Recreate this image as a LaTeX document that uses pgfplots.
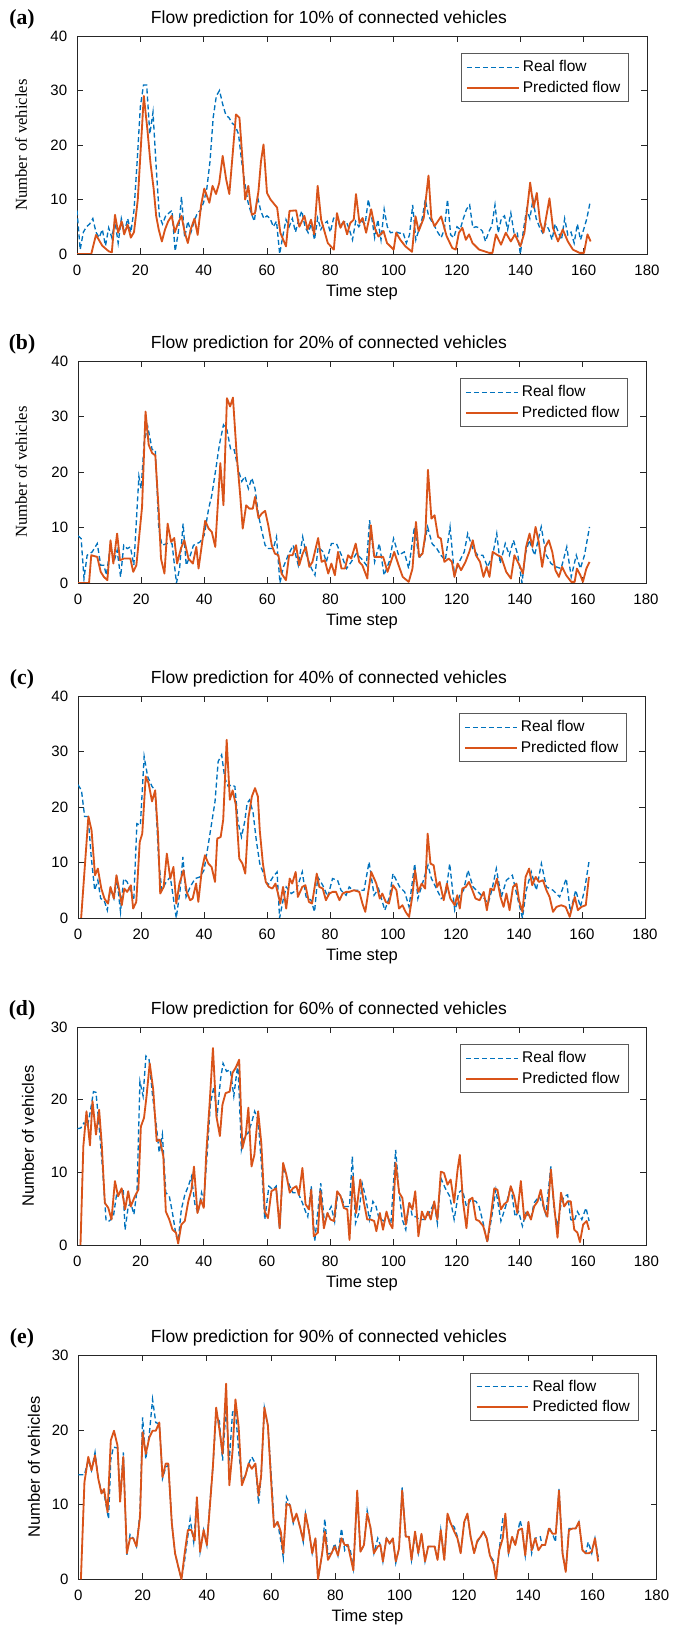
\documentclass[border=0pt]{standalone}
\usepackage{fontspec}
\setmainfont{Liberation Sans}
\newfontfamily\tnr{Liberation Serif}
\usepackage{pgfplots}
\pgfplotsset{compat=1.18}

\definecolor{realc}{rgb}{0,0.447,0.741}
\definecolor{predc}{rgb}{0.85,0.325,0.098}
\definecolor{axc}{rgb}{0.15,0.15,0.15}

% 1 px of the reference = 0.6pt
\pgfplotsset{
  flow/.style={
    scale only axis, anchor=south west,
    xmin=0, xmax=180, ymin=0,
    xtick={0,20,...,180},
    tick align=inside,
    major tick length=3.6pt,
    axis line style={axc, line width=0.5pt},
    every tick/.style={axc, line width=0.5pt},
    tick label style={font=\fontsize{9}{10}\selectfont},
    xticklabel style={yshift=-2.8pt},
    yticklabel style={xshift=-2.4pt},
    /pgf/number format/assume math mode=true,
    legend style={at={(1,1)}, anchor=north east, xshift=-10.8pt, yshift=-10.5pt,
      draw=black!65, line width=0.5pt, font=\fontsize{9.3}{11}\selectfont,
      inner xsep=3pt, inner ysep=2pt},
    legend cell align=left,
    legend image code/.code={\draw[##1] (0pt,0pt) -- (31pt,0pt);},
  },
  real/.style={realc, line width=0.8pt, dash pattern=on 3pt off 1.8pt},
  pred/.style={predc, line width=1.1pt, line join=round},
}

\begin{document}
\begin{tikzpicture}
\path[use as bounding box] (0,0) rectangle (405pt,979.8pt);

% ---------------- (a) 10%
\begin{axis}[flow, at={(46.2pt,827.4pt)}, width=342pt, height=130.8pt,
  ymax=40, ytick={0,10,...,40}]
\addplot[real] coordinates {(0,8)(1,0.8)(2,4)(3,5)(4,5.5)(5,6.5)(6,4)(7,3)(8,4.5)(9,1.5)(10,4.8)(11,3)(12,6)(13,2)(14,6.5)(15,4)(16,6.5)(17,4)(18,8)(19,17)(20,27)(21,31)(22,31)(23,22)(24,26)(25,16)(26,7)(27,5.5)(28,7)(29,7.5)(30,8)(31,0.5)(32,4)(33,10.5)(34,3)(35,6)(36,4)(37,6)(38,7.5)(39,8)(40,9.5)(41,12)(42,17)(43,25)(44,29)(45,30)(46,27.5)(47,25.5)(48,25)(49,24)(50,23.5)(51,22)(52,17)(53,13)(54,9.5)(55,7.5)(56,6)(57,10.5)(58,8)(59,6.5)(60,7)(61,6.5)(62,5)(63,6)(64,0)(65,3.3)(66,6.3)(67,5)(68,6.5)(69,4)(70,6.3)(71,7.9)(72,5)(73,3.9)(74,5.5)(75,2.6)(76,6.6)(77,4.5)(78,5.5)(79,6)(80,4)(81,6.5)(82,7.2)(83,5)(84,5.8)(85,6)(86,4.5)(87,2.6)(88,6)(89,5)(90,6)(91,5.5)(92,10)(93,7)(94,3)(95,6.3)(96,2.6)(97,8.2)(98,5)(99,3.9)(100,4)(101,4)(102,3.8)(103,3.9)(104,2)(105,3.5)(106,9)(107,2.6)(108,4.5)(109,6.5)(110,10)(111,7)(112,6)(113,5)(114,3.9)(115,3)(116,4.5)(117,10)(118,3.5)(119,3)(120,5)(121,4.5)(122,6.5)(123,8.2)(124,9)(125,4.8)(126,5)(127,4.8)(128,4.2)(129,2.3)(130,4)(131,5.2)(132,9)(133,3.9)(134,6.5)(135,7)(136,4.5)(137,7.5)(138,3.9)(139,4)(140,0)(141,4.5)(142,8.2)(143,6.5)(144,10)(145,6.5)(146,5)(147,3.9)(148,5.5)(149,4.5)(150,2.6)(151,5.5)(152,4)(153,2.6)(154,6.5)(155,3.5)(156,4)(157,2)(158,5.5)(159,2.6)(160,4.5)(161,6.5)(162,9.4)};
\addlegendentry{Real flow}
\addplot[pred] coordinates {(0,0)(4.5,0)(6,3.5)(7,2.5)(8,1.5)(9,1)(10,0.5)(11,0.3)(12,7.2)(13,3.9)(14.1,6)(14.9,3.6)(16,5.4)(17,3)(18,4)(19.2,10)(20.2,20)(21.1,29)(22.2,23)(23.2,16.7)(24.2,12)(25,7)(25.8,4.5)(26.8,2.3)(27.8,4.5)(28.8,6)(29.9,7)(30.9,4)(31.8,5.5)(33,7)(34,4)(35,2)(35.9,4.5)(37.1,6.5)(38.1,3.5)(39.2,9)(40.2,12)(41.8,9.4)(42.8,12.5)(43.9,11)(44.9,13)(46,18)(47.1,13.7)(48.1,11)(49.2,18.6)(50.2,25.6)(51.3,25)(52.3,17)(53.1,10)(54.1,12.5)(55.2,7.2)(56.2,7.5)(57.3,11.5)(58.1,17)(58.9,20.1)(60,11.2)(61.1,10)(63.2,8.5)(64.2,3.9)(66,1.4)(67.1,7.9)(69.2,8)(70.2,5)(71.8,7)(72.8,4.5)(73.9,6.3)(74.9,3.6)(76,12.5)(77.1,6.3)(79.2,2)(81.1,0.8)(82.1,7.5)(83.2,4.8)(84.2,6)(85.3,3.6)(86.3,5.7)(87.4,6.3)(88.1,11)(89.2,5.7)(90.2,6.6)(91.3,3.9)(92.9,8.2)(94.2,4.5)(95.2,3.2)(96.8,4.2)(97.9,2)(100,0.8)(100.8,3.9)(102.1,2.6)(103.7,1.4)(105.8,0.4)(106.9,6.9)(107.9,4.2)(109.5,6.6)(111,14.4)(111.9,6.6)(112.9,5.1)(115,6.9)(116.7,3.3)(118.5,1.1)(119.6,0.8)(120.6,3.9)(121.7,4.8)(122.8,2.6)(123.8,3.6)(124.9,2)(127,0.8)(130.2,0.2)(131.2,0.2)(132.3,3.6)(133.9,1.7)(135.4,3.9)(137,2.3)(138.3,3.6)(140,1.4)(141.3,3.9)(143.1,13.1)(144.2,8.5)(145.2,11.2)(146.2,6)(147.3,3.9)(149.2,10.2)(150.3,4.8)(151.9,2.3)(153.4,4.5)(155,2.3)(156.6,0.8)(158.7,0.2)(160.1,0.2)(161.2,3.6)(162.2,2.3)};
\addlegendentry{Predicted flow}
\end{axis}

% ---------------- (b) 20%
\begin{axis}[flow, at={(46.8pt,630pt)}, width=340.8pt, height=133.2pt,
  ymax=40, ytick={0,10,...,40}]
\addplot[real] coordinates {(0,8.5)(1,8)(1.9,0.8)(2.9,5)(4.5,5.6)(6.1,7.1)(7.2,3.2)(8.2,3.2)(9,1.4)(10.3,6.8)(11.4,3.8)(12.4,5.9)(13.5,1.1)(14.5,6.8)(15.6,6.2)(16.6,6.5)(17.7,3.2)(19.3,19.2)(20,17)(21,25.5)(22.1,28.2)(23.5,24)(24.5,24)(25.6,9.8)(26.6,6.8)(28.2,7.1)(29.8,7.1)(31.2,0)(32.2,2.6)(33.3,10.7)(34.3,3.2)(35.6,5)(36.6,6.8)(37.7,7.1)(38.7,7.4)(40,8.6)(41.4,13.4)(42.4,15.8)(43.8,21)(44.8,24.9)(46.1,28.5)(47.2,27.6)(48.4,24)(49.5,24)(50.8,20.4)(51.9,18.3)(52.9,19.2)(54,17)(55.1,18.9)(56.1,17)(57.2,12.2)(58.2,9.5)(59.3,6.8)(60.3,6.2)(61.9,6.2)(62.9,8.3)(64,0)(65.1,2.9)(66.6,5)(68.2,6.8)(69.8,3.2)(71.2,8.3)(72.4,5)(74,2.6)(75.1,1.4)(76.1,6.5)(77.7,5.6)(78.7,3.8)(80.3,7.1)(81.9,7.1)(83.5,5)(85.1,2.6)(86.6,3.8)(88.2,5.3)(89.8,4.4)(91.4,3.2)(92.4,11.3)(94,3.8)(95.5,7.1)(97,1.4)(98.6,3.8)(100,8)(101.6,5)(103.4,5.6)(104.8,2.6)(106.6,10.1)(108.1,4.4)(109.2,5.6)(110.8,10.1)(112.2,7.1)(113.7,6.2)(115,5)(116.4,4.1)(117.9,10.1)(119.3,1.4)(120.8,3.8)(122.4,5.6)(123.5,8.9)(125.1,6.2)(126.7,5)(128.3,5)(129.8,2.9)(131.4,5)(132.7,8.9)(133.8,3.5)(135.4,7.1)(136.7,5)(138,7.7)(139.4,5)(140.7,0)(141.8,5.3)(143,7.7)(144.7,5)(146.8,10.1)(148.4,5)(149.9,3.5)(151.5,2.9)(153.1,2.6)(154.9,6.5)(156.3,1.1)(157.9,5)(159.2,2.6)(160.5,5)(162.1,10.1)};
\addlegendentry{Real flow}
\addplot[pred] coordinates {(0,0)(3.5,0)(4.2,5)(6.1,4.7)(7.2,2)(8.2,1.1)(9.3,0.5)(10.3,7.7)(11.2,3.5)(12.4,8.9)(13.3,4.1)(14.5,4.4)(16.6,4.4)(17.5,2)(18.5,3.2)(20.3,13.7)(21.4,30.9)(22.4,24.9)(23.5,23.4)(24.5,23)(25.6,12.8)(26.3,4.4)(27.4,1.7)(28.4,10.7)(29.5,7.4)(30.5,8.1)(31.4,3.5)(32.6,6.2)(33.7,7.7)(35,4.4)(36.4,3.5)(37.5,6.5)(38.2,2.6)(40.3,11.2)(41.4,9.8)(42.4,9.2)(43.5,6.5)(45.1,21.6)(46.1,14)(47.2,33.3)(48.2,31.8)(49.1,33.4)(50.3,23)(51.4,15.8)(52.2,9.8)(53.3,14)(54.3,13.4)(55.4,13.4)(56.1,15.5)(57.2,11.7)(58.2,12.5)(59.3,13)(60.3,10.4)(61.4,6.8)(62.4,5.3)(63.5,5)(64.5,1.7)(65.9,0.5)(66.9,5)(68,5)(69.1,6.8)(70.1,3.2)(71.2,5.3)(72.2,6.5)(73.3,2.9)(74.3,3.8)(76.1,8.1)(77.2,3.8)(78.2,4.1)(79.3,1.7)(80.3,3.5)(81.4,1.4)(82.4,5.6)(83.5,2.6)(84.6,2.6)(85.6,5)(86.6,4.4)(88,7.1)(89.1,3.8)(90.1,3.2)(91.7,0.8)(92.8,10.4)(93.9,4.7)(96.7,4.7)(98.1,2)(100.2,5.6)(101.6,3.2)(102.9,1.1)(104.8,0.2)(106,2.6)(107.1,11)(108.1,4.7)(109.2,5.3)(110.1,8.9)(110.9,20.4)(112,11.6)(113,12.2)(114.1,8.3)(115,8)(116.1,3.8)(117.5,4.4)(118.5,3.8)(119.3,1.1)(120.3,3.5)(121.4,2.3)(122.8,3.8)(124,5.6)(125.1,7.7)(126.1,5)(127.4,3.8)(128.5,1.1)(129.5,2.9)(130.4,1.1)(131.4,5.6)(133,5)(134.1,4.7)(135.7,2)(137.2,0.8)(138.3,5)(139.9,3.2)(141,1.7)(142,6.5)(143.1,8.9)(144,6.5)(145,10.1)(146,7.4)(147.1,2.9)(148.1,6.5)(149.2,7.7)(150.3,5.6)(151.3,2.3)(152.4,1.1)(153.4,2.9)(154.7,1.4)(156.3,0.2)(157.4,0.2)(158.1,2.6)(159.2,1.4)(160,0.2)(161.1,2.6)(162.1,3.8)};
\addlegendentry{Predicted flow}
\end{axis}

% ---------------- (c) 40%
\begin{axis}[flow, at={(46.8pt,429pt)}, width=340.2pt, height=133.2pt,
  ymax=40, ytick={0,10,...,40}]
\addplot[real] coordinates {(0,24)(1.1,23)(2.1,18.3)(3.2,18.3)(4.2,11)(5.3,5)(6.3,6.8)(7.2,3.5)(8.3,3.2)(9.3,1.4)(10.3,5.3)(11.4,3.5)(12.4,6.8)(13.5,1.1)(14.5,7.1)(15.6,6.5)(16.6,5)(17.7,3.2)(18.7,17)(19.8,16.7)(21,29.1)(22.1,25.5)(23.5,23.7)(24.5,23)(25.6,10.4)(26.6,5)(28,6.5)(29.3,7.4)(31.2,0)(32.4,5)(33.3,11)(34.3,3.8)(35.6,5.6)(37.2,7.1)(38.7,7.4)(40,8.6)(41.4,13.4)(42.4,17)(43.5,21)(44.5,28.2)(45.6,29.4)(46.6,25.2)(47.7,23.7)(48.7,24)(49.8,23.7)(50.8,17.3)(51.9,14.6)(52.9,17.3)(53.7,20.7)(54.5,21.3)(55.6,18.9)(56.6,14)(57.7,9.8)(58.9,8)(60.3,5.9)(61.9,7.4)(63.2,8.3)(64,0)(65.1,3.2)(66.1,5.6)(67.7,4.4)(69.3,5)(71.2,8.3)(72.4,3.8)(74,3.2)(75.1,1.1)(76.1,7.4)(77.7,5.9)(79.3,3.8)(80.8,7.1)(82.4,6.8)(83.5,5)(85.1,4.1)(86.1,5.6)(87.2,5)(89.3,5)(90.8,5)(92.4,10.1)(94,4.1)(95.4,5.3)(97.4,1.4)(98.9,3.8)(100,8)(102.1,5.6)(103.7,4.7)(105.1,2)(106.9,9.8)(107.9,3.5)(109.5,6.5)(111.1,9.5)(112.2,7.1)(113.8,5.3)(115.3,3.5)(116.7,4.1)(118,9.8)(119.6,1.4)(121.2,4.1)(122.4,5)(123.8,8.6)(125.4,5.6)(127,4.7)(128.6,3.8)(130.2,2.6)(131.5,5.3)(132.8,8.9)(134.4,3.8)(136,6.8)(137.9,7.7)(139.2,4.4)(141.1,0)(142.3,5)(143.9,8.3)(145.5,5)(147.1,9.8)(148.7,5.6)(150.8,5)(152.9,3.8)(155,7.1)(156.3,1.1)(158,5)(159.5,2)(160.8,5)(162.2,10.1)};
\addlegendentry{Real flow}
\addplot[pred] coordinates {(1,0)(3.3,18.3)(4.3,15.8)(5.4,7.7)(6.3,8.9)(7.4,5.3)(8.4,3.5)(9.5,2.6)(10.3,5.6)(11.4,3.5)(12.2,7.7)(13.1,5)(13.9,2.3)(14.7,5.3)(15.6,4.7)(16.8,5.9)(17.5,1.7)(18.5,2.9)(19.6,13.7)(20.4,15.2)(21.5,25.5)(22.4,24.3)(23.5,21)(24.5,23)(25.4,15.2)(26.1,4.4)(27.2,5.6)(28.2,11.6)(29.3,7.1)(30.3,9.2)(31.2,2.6)(32.2,6.2)(33.5,8.6)(34.5,4.7)(35.6,3.2)(36.4,3.5)(37.5,6.2)(38.2,2.9)(39.3,8.6)(40.3,11.3)(41.4,9.8)(42.4,9.2)(43.5,6.5)(44.2,14.3)(45.3,14.6)(46.1,17.7)(47.2,32.1)(48.2,21.3)(49.1,23)(50.1,20.4)(51.2,10.7)(52.2,9.8)(53.1,8)(54.1,18)(55.2,21.9)(56.2,23.4)(57.1,21.9)(57.7,15.8)(58.7,9.8)(59.6,6.5)(60.6,5.6)(61.7,5.3)(62.7,6.2)(63.5,4.4)(64.2,2.6)(65.1,5.6)(66.1,1.7)(67.2,7.1)(68,6.2)(69.1,8.3)(69.8,3.8)(71.2,5.6)(72.2,5.9)(73.3,2.9)(74.3,2.6)(75.8,8)(76.6,5.6)(77.7,5.3)(78.7,3.2)(79.8,4.4)(80.8,4.7)(81.9,4.7)(83,3.2)(84,4.4)(85.1,4.7)(86.1,4.7)(87.6,5)(89.3,4.7)(90.3,2.6)(91.2,1.1)(92.1,4.5)(93.1,8.3)(94.7,6.2)(95.8,3.5)(96.6,4.4)(97.7,2.9)(98.7,2.6)(100,5.9)(101.1,5)(101.9,1.7)(103,2.3)(104,1.1)(105.1,0.2)(106.1,3.8)(107,8.6)(108,4.7)(109.1,6.2)(110.2,5.3)(111,15.2)(111.9,9.8)(112.9,9.5)(114,5.6)(114.8,6.5)(116.1,3.2)(117.1,6.2)(118.2,3.5)(119.6,2.3)(120.4,4.1)(121.2,1.7)(122,5.3)(123.1,5.6)(124.1,6.5)(125.2,5)(126.2,3.5)(127.5,3.2)(128.8,4.7)(129.8,1.4)(130.9,5.3)(132,5)(133,7.1)(134.1,3.8)(135.1,2)(136,4.4)(137,1.4)(138.1,5.6)(139.2,6.2)(140,3.2)(141.1,1.1)(142.1,7.4)(143.2,8.9)(144.2,5.9)(145.3,7.4)(146.3,6.5)(147.6,6.8)(148.7,5)(149.7,3.8)(150.8,1.1)(151.9,2)(153.4,2.3)(154.8,2)(156.1,0.2)(157.7,3.8)(158.7,1.4)(159.8,2)(161.2,2.3)(162.2,7.4)};
\addlegendentry{Predicted flow}
\end{axis}

% ---------------- (d) 60%
\begin{axis}[flow, at={(46.4pt,232.8pt)}, width=341.4pt, height=130.8pt,
  ymax=30, ytick={0,10,...,30}]
\addplot[real] coordinates {(0,16)(1.1,16.1)(2.1,16.8)(3.2,16.3)(4.2,18.6)(5.1,21.1)(5.9,21)(6.9,16.3)(8,10.4)(9.1,3.3)(10.1,3.3)(11.4,3.9)(12.4,6.9)(13.5,7.2)(14.5,7.8)(15.1,2.1)(16.1,5.3)(16.9,5.8)(17.9,4.2)(18.9,7.6)(19.8,22.5)(20.8,20.5)(21.7,26)(22.7,25.5)(23.8,20.5)(24.8,17.2)(25.9,12.7)(26.9,15.2)(28,7.2)(29.1,6.7)(30.1,4.4)(31.2,1.4)(31.9,0.5)(32.9,4.9)(34,6.9)(35.1,8.1)(36.1,9.4)(37.2,5.6)(38.2,4.4)(39.3,7.2)(40,6)(41.1,12.7)(42.1,19.5)(43.2,21.8)(44.2,17.7)(45.3,22.8)(46.1,25)(47.2,23.9)(48.4,24.1)(49.5,20.5)(50.8,25)(51.9,13.1)(52.9,15)(54,15.4)(55.1,16.8)(56.1,18.4)(57.2,17.2)(58.2,11.3)(59.3,3.5)(60.6,8.1)(61.9,7.6)(62.9,8.1)(64,2.1)(65.1,10.8)(66.1,9.5)(67.2,8.1)(68.2,7.2)(69.8,7.2)(71.2,5.8)(72.2,4.6)(72.9,3.9)(74,8.1)(75.1,0.5)(77,8.5)(78.2,3)(79.3,4.4)(80.3,5.3)(81.4,3.2)(82.4,7.2)(83.5,6.7)(84.5,5.3)(85.4,5.3)(86.1,5.3)(87,12.2)(88,3)(89.1,4.4)(90.1,8.5)(91.2,6.6)(92.4,3.5)(93.5,6)(94.5,5.3)(95.4,3.7)(97,3.3)(98.1,3.9)(99.2,3)(100.7,13.1)(101.8,7.2)(102.8,3.5)(103.9,2.1)(105,6)(106,3.9)(107.1,3.9)(108.1,3.5)(109.7,3.5)(111.3,4.4)(112.9,5.8)(113.9,3)(115,9.2)(116.4,7.8)(117.8,6.7)(119.2,3.5)(120.6,7.2)(121.8,7.6)(123.1,5.3)(124.5,6.2)(126.1,6)(127.1,5.3)(128.4,3)(129.7,0.3)(131.1,3.9)(132.4,7.6)(134,3.3)(135.5,5.3)(137.1,8.1)(138.5,3.9)(139.6,4.6)(140.8,2.6)(141.9,4.4)(143.5,3.7)(144.5,5.8)(146.1,6.7)(147.2,5.6)(148.2,4.2)(149.8,10.8)(150.8,4.9)(151.9,2.6)(153,5.6)(154,6.7)(155.1,6.9)(156.1,3.5)(157.2,3.3)(158.2,4.6)(159.6,3.5)(160.9,5.1)(161.9,3.3)};
\addlegendentry{Real flow}
\addplot[pred] coordinates {(1,0)(1.9,13.6)(2.9,18.4)(4,13.7)(4.8,19.8)(5.9,15.2)(6.9,18.6)(7.7,14)(8.7,5.8)(9.8,5.1)(10.8,3.5)(11.9,8.8)(12.9,6.7)(14,7.8)(15.1,4.9)(16.1,7.4)(16.9,5.3)(18.2,6.7)(19.3,7.6)(20.1,16.3)(21.1,17.5)(21.9,20.5)(22.9,25)(24,21.4)(25.1,14.3)(26.1,14.5)(27.2,12.2)(28,4.6)(29.1,3.5)(30.1,2.1)(31.2,1.7)(31.9,0.2)(32.9,2.8)(34,3.3)(35.1,6)(36.1,7.6)(36.9,10.8)(38,4.4)(39.1,6.2)(40,5.1)(40.8,12.7)(41.9,19.8)(42.9,27.1)(44,17.7)(45.1,15)(45.9,19.3)(46.9,20.9)(48.2,21.1)(49.1,23.7)(50.1,24.4)(51.2,25.5)(52.2,13.3)(53.3,15.2)(54.1,18.9)(55.1,10.8)(56,12.4)(57.2,18.4)(58.2,14)(59.3,4.6)(60.3,3.7)(61.4,7.4)(62.9,7.8)(64,2.3)(65.1,11.3)(66.1,9.7)(67.2,7.2)(68.2,7.8)(69.3,8.1)(70.1,6.9)(71.2,10.6)(72.2,5.6)(73.3,4.9)(74,7.6)(74.8,1.2)(76.1,1.7)(76.9,7.4)(78,2.3)(79.1,4.4)(80.1,3.5)(81.2,3.3)(82.2,7.4)(83.3,6.7)(84.3,5.1)(85.4,4.9)(86.1,0.7)(87.2,9.4)(88.2,4.4)(89.5,9)(90.6,6)(91.7,3.5)(92.8,3.5)(93.9,3.3)(94.6,1.9)(95.7,4.4)(96.7,2.1)(97.8,4.6)(98.8,3)(99.7,2.3)(100.7,11.3)(101.8,7.2)(102.8,6.5)(103.9,2.8)(105,5.8)(106,4.9)(106.9,7.4)(107.9,1.2)(109,4.6)(110,3.5)(110.9,4.6)(111.8,3.5)(112.9,6)(113.9,3.5)(115,10.1)(116,9.9)(117.1,8.3)(118.1,9)(119.2,5.8)(120.3,10.4)(121,12.4)(122,6)(123.1,2.3)(123.9,6.2)(125,6.5)(126.1,3.5)(127.1,3.3)(128.4,2.6)(129.7,0.5)(130.8,3.9)(131.9,7.8)(132.9,7.6)(134,4.9)(135,5.6)(136.1,6)(137.1,8.1)(138.2,6.7)(139.2,4.4)(140.3,8.8)(141.4,3.5)(142.4,4.6)(143.5,3.5)(144.5,5.3)(145.6,6)(146.6,7.6)(147.7,4.9)(148.7,3.9)(149.8,10.4)(150.8,5.6)(151.9,1)(153,7.2)(154,5.3)(155.1,6)(156.1,6)(157.2,2.1)(158.2,1.7)(159,0.4)(160,2.8)(161.1,3.3)(161.9,2.1)};
\addlegendentry{Predicted flow}
\end{axis}

% ---------------- (e) 90%
\begin{axis}[flow, at={(47pt,32.2pt)}, width=347pt, height=134.4pt,
  ymax=30, ytick={0,10,...,30}]
\addplot[real] coordinates {(0,14)(1.9,14)(3.1,16)(4.1,14.6)(5.2,17)(6.2,13.5)(7.2,11.8)(8,11.5)(9.4,8.1)(10.1,16)(10.9,17.7)(12.2,17.6)(13,11)(14,17)(15.1,3.3)(16.1,6)(17.1,5.5)(18.1,4.4)(19.2,9)(20,21.7)(21,16.1)(22.1,19.5)(23.1,24.1)(24.1,21)(25.2,20.8)(26.2,13.5)(27.2,15)(28,15.3)(29.1,7.5)(30.1,3.5)(31.1,1.7)(32.1,0)(33.1,2.6)(34.8,8.1)(35.9,5)(36.9,10.8)(37.9,3.7)(39,6.6)(40,4.6)(41,10.5)(41.9,15.2)(42.9,22)(43.9,21.2)(44.9,15.9)(46,23)(47,15.9)(48,22.4)(48.9,22.6)(49.9,17.2)(50.9,13.2)(52,13.9)(53,15.5)(54,16.4)(55.1,15.5)(56.1,10.1)(56.9,13.9)(57.9,23)(59,20.6)(60.4,11.5)(60.9,7.5)(62,7.7)(63,5.2)(63.8,2.9)(64.8,11)(65.9,9.9)(66.9,7.5)(67.9,8.8)(69,7)(70,5)(70.7,8.8)(71.8,6.4)(72.8,3.5)(73.8,5.5)(74.6,0)(75.9,3.5)(76.7,8.1)(77.7,3.4)(78.8,3.5)(79.8,4.8)(80.8,3.2)(81.9,6.8)(82.9,3.9)(83.9,4.6)(84.7,3.8)(85.6,1.5)(86.8,11.5)(87.8,3.7)(88.9,4.6)(89.9,9.2)(90.9,7)(92,3.5)(93.2,5.5)(94,4.6)(94.8,2.4)(95.9,5.5)(96.9,4.8)(97.9,5.5)(98.8,2.2)(99.8,4.1)(100.8,12.3)(101.9,5.7)(102.9,5.7)(103.7,2.6)(104.8,5.9)(105.8,3.5)(106.8,6.1)(107.9,2.4)(108.9,4.4)(109.9,4.4)(110.9,4.4)(111.8,2.6)(112.8,6.6)(113.9,2.6)(114.9,8.4)(115.9,7.5)(117,7)(118,5.7)(119,3.5)(120.1,7.5)(121.1,8.8)(122.1,5.7)(123.2,3.5)(124.2,5)(125.2,5.7)(126.1,6.4)(127.1,5.5)(128.1,3.2)(129.2,2.5)(130,0)(131,3.9)(132.1,8.1)(132.9,8.4)(133.9,3.5)(135,5.7)(136,4.6)(137.5,7.9)(138.1,6.8)(139.1,3.2)(140.1,7.7)(141.1,3.5)(142.2,5.5)(143.8,5.7)(144.3,4.6)(145.3,4.6)(146.5,7)(147.6,6.1)(148.5,5)(149.6,12.1)(150.7,3.5)(151.7,1)(152.7,6.8)(153.8,6.8)(154.8,6.8)(155.8,7.7)(156.9,3.9)(157.9,3.5)(158.7,5)(159.8,3.5)(160.8,5.5)(161.8,3)};
\addlegendentry{Real flow}
\addplot[pred] coordinates {(0.8,0)(1.9,13)(3.1,16.4)(4.1,14.6)(5.2,16.6)(6.2,13.5)(7.2,11.5)(8,12.1)(9.1,9)(10.1,18.6)(11.1,19.9)(12.2,17.9)(13,10.4)(14,16.4)(15.1,3.5)(16.1,5.5)(17.1,5.5)(18.1,4.4)(19.2,8.4)(20,19.7)(21,16.8)(22.1,19)(23.1,19.9)(24.1,19.9)(25.2,21)(26.2,13.7)(27.2,15.5)(28,15.5)(29.1,7.5)(30.1,3.5)(31.1,1.7)(32.1,0)(33.1,3.5)(34.1,6.6)(35.2,6.6)(36.2,5.2)(36.9,11)(37.9,3.7)(39,6.6)(40,4.6)(41,10.1)(41.9,15.2)(42.9,23)(43.9,20.1)(44.9,16.8)(46,26.2)(47,12.6)(48,17.2)(48.9,24.1)(49.9,20.4)(50.9,12.6)(52,13.9)(53,15.5)(54,14.8)(55.1,15.5)(56.1,11.2)(56.9,13.9)(57.9,23)(59,20.6)(60,13.2)(60.9,7)(62,7.7)(63,6.4)(63.8,3.5)(64.8,10.1)(65.9,9.9)(66.9,7.7)(67.9,8.8)(69,7)(70,5.2)(70.7,8.8)(71.8,6.4)(72.8,3.5)(73.8,5.5)(74.6,0)(75.9,3.5)(76.7,6.4)(77.7,2.6)(78.8,3.5)(79.8,4.4)(80.8,3.2)(81.9,5.5)(82.9,4.6)(83.9,4.6)(84.7,3)(85.6,1.2)(86.8,11.9)(87.8,3.7)(88.9,4.6)(89.9,8.8)(90.9,7)(92,3.5)(93.2,4.4)(94,4.6)(94.8,2.4)(95.9,5.5)(96.9,4.8)(97.9,5.5)(98.8,2.4)(99.8,4.1)(100.8,11.9)(101.9,5.7)(102.9,5.7)(103.7,2.6)(104.8,6.4)(105.8,3.5)(106.8,6.1)(107.9,2.4)(108.9,4.4)(109.9,4.4)(110.9,4.4)(111.8,2.6)(112.8,6.6)(113.9,2.6)(114.9,8.8)(115.9,7.5)(117,6.4)(118,5.5)(119,3.5)(120.1,7.7)(121.1,8.8)(122.1,5.7)(123.2,3.5)(124.2,5.2)(125.2,5.7)(126.1,6.4)(127.1,5.5)(128.1,3.2)(129.2,2.1)(130,0)(131,3.9)(132.1,5.5)(132.9,8.8)(133.9,3.5)(135,5.7)(136,4.6)(137,6.6)(138.1,6.8)(139.1,3.2)(140.1,7.7)(141.1,3.9)(142.2,5.5)(143.2,3.9)(144.3,4.6)(145.3,4.6)(146.5,6.8)(147.6,6.1)(148.6,6.1)(149.6,11.9)(150.7,3.5)(151.7,1)(152.7,6.6)(153.8,6.8)(154.8,6.8)(155.8,7.7)(156.9,3.9)(157.9,3.5)(158.9,3.5)(159.8,3.7)(160.8,5.5)(161.8,2.4)};
\addlegendentry{Predicted flow}
\end{axis}

% ---------------- titles, panel letters, axis labels
\begin{scope}[font=\fontsize{10.5}{12}\selectfont]
\node at (197.4pt,968.4pt) {Flow prediction for 10\% of connected vehicles};
\node at (197.4pt,773.4pt) {Flow prediction for 20\% of connected vehicles};
\node at (197.4pt,572.4pt) {Flow prediction for 40\% of connected vehicles};
\node at (197.4pt,373.8pt) {Flow prediction for 60\% of connected vehicles};
\node at (197.4pt,177pt) {Flow prediction for 90\% of connected vehicles};
\end{scope}
\begin{scope}[font=\tnr\bfseries\fontsize{13}{15}\selectfont]
\node at (13.2pt,968.4pt) {(a)};
\node at (13.2pt,773.4pt) {(b)};
\node at (13.2pt,572.4pt) {(c)};
\node at (13.2pt,373.8pt) {(d)};
\node at (13.2pt,177pt) {(e)};
\end{scope}
\begin{scope}[font=\fontsize{9.9}{11}\selectfont]
\node at (217.2pt,804.6pt) {Time step};
\node at (217.2pt,607.2pt) {Time step};
\node at (217.2pt,406.2pt) {Time step};
\node at (217.2pt,210pt) {Time step};
\node at (220.5pt,9.3pt) {Time step};
\node[rotate=90] at (16.8pt,298.2pt) {Number of vehicles};
\node[rotate=90] at (20.4pt,99.6pt) {Number of vehicles};
\end{scope}
\begin{scope}[font=\tnr\fontsize{10}{12}\selectfont]
\node[rotate=90] at (12.6pt,892.8pt) {Number of vehicles};
\node[rotate=90] at (12.6pt,696.6pt) {Number of vehicles};
\end{scope}
\end{tikzpicture}
\end{document}
